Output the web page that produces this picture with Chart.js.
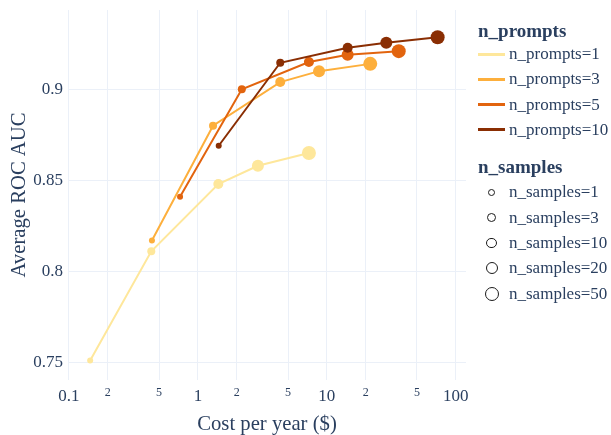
<!DOCTYPE html>
<html>
<head>
<meta charset="utf-8">
<script src="https://cdn.jsdelivr.net/npm/chart.js@4.4.1/dist/chart.umd.min.js"></script>
<style>
  html, body { margin: 0; padding: 0; background: #fff; }
  #wrap { position: relative; width: 611px; height: 435px; }
  #chart { position: absolute; left: 0; top: 0; }
  .lg { position: absolute; font-family: "Liberation Serif", "Times New Roman", serif; color: #2a3f5f; white-space: nowrap; }
  .lg-title { font-size: 19px; font-weight: bold; line-height: 20px; }
  .lg-text { font-size: 17px; line-height: 20px; }
  .lg-line { position: absolute; width: 27px; height: 3px; }
  .lg-dot { position: absolute; box-sizing: border-box; border: 1.5px solid #1b1b1b; border-radius: 50%; background: #fff; }
</style>
</head>
<body>
<div id="wrap">
  <canvas id="chart" width="611" height="435"></canvas>
  <div id="legend"></div>
</div>
<script>
// data
const nSamples = [1, 3, 10, 20, 50];
const promptLabels = ["n_prompts=1", "n_prompts=3", "n_prompts=5", "n_prompts=10"];

const costP1 = [0.146, 0.435, 1.44, 2.92, 7.26];
const aucP1 = [0.751, 0.811, 0.848, 0.858, 0.865];
const costP3 = [0.44, 1.31, 4.35, 8.7, 21.7];
const aucP3 = [0.817, 0.880, 0.904, 0.910, 0.914];
const costP5 = [0.727, 2.19, 7.26, 14.5, 36.1];
const aucP5 = [0.841, 0.900, 0.915, 0.919, 0.921];
const costP10 = [1.45, 4.35, 14.5, 28.9, 72.3];
const aucP10 = [0.869, 0.9146, 0.9229, 0.9256, 0.9286];

const xTicks = [0.1, 0.2, 0.5, 1, 2, 5, 10, 20, 50, 100];
const yTicks = [0.75, 0.8, 0.85, 0.9];

// styles
const colors = ["#fee79b", "#fdaf3c", "#e2640e", "#8a2e03"];
const pointRadius = [3, 4, 5, 6, 7];
const legendDot = [7.5, 9, 10.5, 12, 14];
const textColor = "#2a3f5f";
const gridColor = "#ebf0f8";
const serif = "'Liberation Serif', 'Times New Roman', serif";

const costs = [costP1, costP3, costP5, costP10];
const aucs = [aucP1, aucP3, aucP5, aucP10];

const isMajor = (v) => [0.1, 1, 10, 100].includes(v);

const datasets = promptLabels.map((label, i) => ({
    label,
    data: costs[i].map((c, j) => ({ x: c, y: aucs[i][j] })),
    showLine: true,
    borderColor: colors[i],
    backgroundColor: colors[i],
    borderWidth: 2,
    pointRadius: pointRadius,
    pointHoverRadius: pointRadius,
    pointBorderWidth: 0,
    pointBackgroundColor: colors[i],
    order: promptLabels.length - i,
}));

// keep the plot box fixed, the tick labels never overflow here
function noPadding(scale) {
    scale.paddingTop = 0;
    scale.paddingBottom = 0;
    scale.paddingLeft = 0;
    scale.paddingRight = 0;
}

new Chart(document.getElementById("chart"), {
    type: "scatter",
    data: { datasets },
    options: {
        responsive: false,
        devicePixelRatio: 1,
        animation: false,
        layout: { padding: { top: 10, right: 145, left: 0, bottom: 0 } },
        plugins: { legend: { display: false }, tooltip: { enabled: false } },
        scales: {
            x: {
                type: "logarithmic",
                min: 0.0983,
                max: 120,
                afterBuildTicks: (scale) => { scale.ticks = xTicks.map((v) => ({ value: v, major: isMajor(v) })); },
                afterFit: (scale) => { scale.height = 55; noPadding(scale); },
                grid: { color: gridColor, drawTicks: false },
                border: { display: false },
                ticks: {
                    autoSkip: false,
                    maxRotation: 0,
                    padding: 6,
                    color: textColor,
                    font: (ctx) => ({
                        family: serif,
                        size: ctx.tick && !isMajor(ctx.tick.value) ? 12 : 17,
                    }),
                    callback: (v) => isMajor(v) ? String(v) : String(v).replace(/[0.]/g, ""),
                },
                title: {
                    display: true,
                    text: "Cost per year ($)",
                    color: textColor,
                    font: { family: serif, size: 20.7, lineHeight: 1 },
                    padding: 0,
                },
            },
            y: {
                min: 0.7403,
                max: 0.9436,
                afterBuildTicks: (scale) => { scale.ticks = yTicks.map((v) => ({ value: v })); },
                afterFit: (scale) => { scale.width = 68; noPadding(scale); },
                grid: { color: gridColor, drawTicks: false },
                border: { display: false },
                ticks: {
                    padding: 5,
                    color: textColor,
                    font: { family: serif, size: 17 },
                    callback: (v) => String(v),
                },
                title: {
                    display: true,
                    text: "Average ROC AUC",
                    color: textColor,
                    font: { family: serif, size: 20.7, lineHeight: 1.2 },
                    padding: { top: 7, bottom: 0 },
                },
            },
        },
    },
});

// legend, two groups like the reference
const legend = document.getElementById("legend");
function addText(cls, text, left, cy) {
    const d = document.createElement("div");
    d.className = "lg " + cls;
    d.textContent = text;
    d.style.left = left + "px";
    d.style.top = (cy - 10) + "px";
    legend.appendChild(d);
}
addText("lg-title", "n_prompts", 478, 31);
promptLabels.forEach((label, i) => {
    const cy = 54 + i * 25.3;
    const line = document.createElement("div");
    line.className = "lg-line";
    line.style.background = colors[i];
    line.style.left = "478px";
    line.style.top = (cy - 1.5) + "px";
    legend.appendChild(line);
    addText("lg-text", label, 509, cy);
});
addText("lg-title", "n_samples", 478, 167);
nSamples.forEach((n, i) => {
    const cy = 192.3 + i * 25.3;
    const d = legendDot[i];
    const dot = document.createElement("div");
    dot.className = "lg-dot";
    dot.style.width = d + "px";
    dot.style.height = d + "px";
    dot.style.left = (491.7 - d / 2) + "px";
    dot.style.top = (cy - d / 2) + "px";
    legend.appendChild(dot);
    addText("lg-text", "n_samples=" + n, 509, cy);
});
</script>
</body>
</html>
